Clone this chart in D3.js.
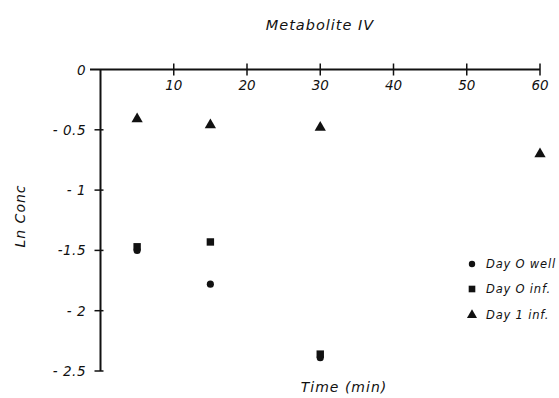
<!DOCTYPE html>
<meta charset="utf-8">
<style>
  body { margin: 0; background: #fff; }
  text { font-family: "DejaVu Sans", sans-serif; font-style: italic; fill: #111; }
</style>
<script src="https://d3js.org/d3.v7.min.js"></script>
<div id="chart"></div>
<script>
  // data
  var times = [5, 15, 30, 60];
  var dayOWell = [-1.50, -1.78, -2.39, null];
  var dayOInf = [-1.47, -1.43, -2.36, null];
  var day1Inf = [-0.41, -0.46, -0.48, -0.70];
  var xTicks = [10, 20, 30, 40, 50, 60];
  var yTicks = [0, -0.5, -1, -1.5, -2, -2.5];
  var yTickLabels = ["0", "- 0.5", "- 1", "-1.5", "- 2", "- 2.5"];
  var seriesNames = ["Day O well", "Day O inf.", "Day 1 inf."];

  var width = 559, height = 398;
  var svg = d3.select("#chart").append("svg")
    .attr("width", width)
    .attr("height", height);

  var x = d3.scaleLinear().domain([0, 60]).range([100.5, 540]);
  var y = d3.scaleLinear().domain([0, -2.5]).range([69.5, 371]);

  // axes lines
  svg.append("line")
    .attr("x1", 90).attr("x2", x(60))
    .attr("y1", y(0)).attr("y2", y(0))
    .attr("stroke", "#111").attr("stroke-width", 2);
  svg.append("line")
    .attr("x1", x(0)).attr("x2", x(0))
    .attr("y1", y(0)).attr("y2", y(-2.5))
    .attr("stroke", "#111").attr("stroke-width", 2);

  // x ticks
  svg.selectAll(".xt").data(xTicks).enter().append("line")
    .attr("x1", function (d) { return x(d); })
    .attr("x2", function (d) { return x(d); })
    .attr("y1", y(0) - 6).attr("y2", y(0) + 6)
    .attr("stroke", "#111").attr("stroke-width", 1.5);
  svg.selectAll(".xl").data(xTicks).enter().append("text")
    .attr("x", function (d) { return x(d); })
    .attr("y", y(0) + 20)
    .attr("text-anchor", "middle")
    .style("font-size", "13.5px")
    .text(function (d) { return d; });

  // y ticks
  svg.selectAll(".yt").data(yTicks.slice(1)).enter().append("line")
    .attr("x1", x(0) - 6).attr("x2", x(0) + 3)
    .attr("y1", function (d) { return y(d); })
    .attr("y2", function (d) { return y(d); })
    .attr("stroke", "#111").attr("stroke-width", 1.5);
  svg.selectAll(".yl").data(yTicks).enter().append("text")
    .attr("x", 86)
    .attr("y", function (d) { return y(d) + 5; })
    .attr("text-anchor", "end")
    .style("font-size", "13.5px")
    .style("letter-spacing", "0.5px")
    .text(function (d, i) { return yTickLabels[i]; });

  // titles
  svg.append("text")
    .attr("x", 320).attr("y", 30)
    .attr("text-anchor", "middle")
    .style("font-size", "14.5px")
    .style("letter-spacing", "1px")
    .text("Metabolite IV");
  svg.append("text")
    .attr("x", 344).attr("y", 392)
    .attr("text-anchor", "middle")
    .style("font-size", "14px")
    .style("letter-spacing", "1px")
    .text("Time (min)");
  svg.append("text")
    .attr("transform", "translate(25,216) rotate(-90)")
    .attr("text-anchor", "middle")
    .style("font-size", "14px")
    .style("letter-spacing", "1px")
    .text("Ln  Conc");

  var symbols = [d3.symbolCircle, d3.symbolSquare, d3.symbolTriangle];
  var sizes = [40, 55, 55];
  var series = [dayOWell, dayOInf, day1Inf];

  series.forEach(function (vals, s) {
    var pts = times.map(function (t, i) { return { t: t, v: vals[i] }; })
      .filter(function (d) { return d.v !== null; });
    svg.selectAll(".p" + s).data(pts).enter().append("path")
      .attr("d", d3.symbol().type(symbols[s]).size(sizes[s]))
      .attr("transform", function (d) {
        return "translate(" + x(d.t) + "," + y(d.v) + ")";
      })
      .attr("fill", "#111");
  });

  // legend
  var legY = [264, 289, 315];
  seriesNames.forEach(function (name, s) {
    svg.append("path")
      .attr("d", d3.symbol().type(symbols[s]).size(sizes[s] * 0.8))
      .attr("transform", "translate(472," + legY[s] + ")")
      .attr("fill", "#111");
    svg.append("text")
      .attr("x", 486).attr("y", legY[s] + 4)
      .style("font-size", "11.5px")
      .style("letter-spacing", "0.8px")
      .text(name);
  });
</script>
